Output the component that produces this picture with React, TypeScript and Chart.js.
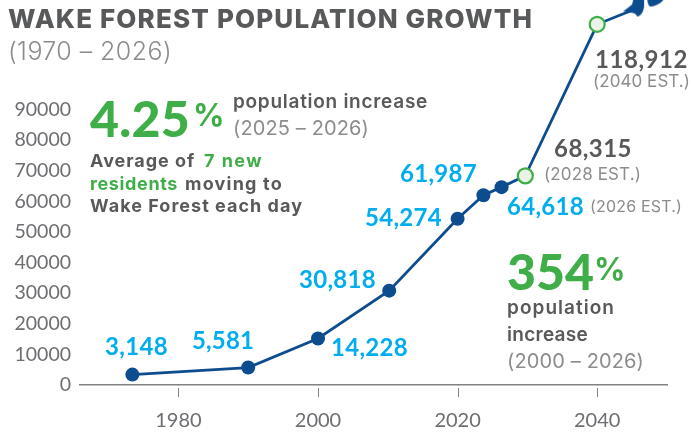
import React, { useEffect, useRef } from "react";
import { Chart, registerables } from "chart.js";

Chart.register(...registerables);

const years = [1973.4, 1990, 2000, 2010.2, 2020, 2023.7, 2026.3, 2029.7, 2040, 2046];
const populations = [3400, 5700, 15200, 30818, 54274, 61987, 64618, 68315, 117800, 123300];
const yTicks = [0, 10000, 20000, 30000, 40000, 50000, 60000, 70000, 80000, 90000];
const xTicks = [1980, 2000, 2020, 2040];
const titleText = "WAKE FOREST POPULATION GROWTH";
const subtitleText = "(1970 – 2026)";
const historicLabels = ["3,148", "5,581", "14,228", "30,818", "54,274", "61,987", "64,618"];
const estimateLabels = ["68,315", "118,912"];
const estimateNotes = ["(2026 EST.)", "(2028 EST.)", "(2040 EST.)"];

const BLUE = "#0d4c8e";
const GREEN = "#3fae49";
const CYAN = "#00aeef";
const DARK = "#58595b";
const GREY = "#8a8c8e";
const FF = "Inter, Lato, sans-serif";
const NUM = "Lato, sans-serif";

type T = [string, number, number, number, string, string, number, string?];
const texts: T[] = [
  [titleText, 8, 28, 525, "800", DARK, 26],
  [subtitleText, 8, 60, 164, "300", GREY, 25],
  [historicLabels[0], 105, 355, 63, "700", CYAN, 24, NUM],
  [historicLabels[1], 192, 349, 62, "700", CYAN, 24, NUM],
  [historicLabels[2], 331, 356, 77, "700", CYAN, 24, NUM],
  [historicLabels[3], 299, 288, 77, "700", CYAN, 24, NUM],
  [historicLabels[4], 365, 226, 77, "700", CYAN, 24, NUM],
  [historicLabels[5], 400, 182, 77, "700", CYAN, 24, NUM],
  [historicLabels[6], 507, 215, 77, "700", CYAN, 24, NUM],
  [estimateNotes[0], 590, 212, 92, "400", GREY, 16],
  [estimateLabels[0], 554, 157, 78, "700", DARK, 24, NUM],
  [estimateNotes[1], 544, 180, 97, "400", GREY, 17],
  [estimateLabels[1], 595, 68, 93, "700", DARK, 24, NUM],
  [estimateNotes[2], 593, 87, 97, "400", GREY, 17],
  ["4.25", 90, 137, 100, "900", GREEN, 50, NUM],
  ["%", 193, 126, 27, "700", GREEN, 31],
  ["population increase", 233, 108, 195, "600", DARK, 19],
  ["(2025 – 2026)", 233, 135, 136, "400", GREY, 20],
  ["Average of", 90, 167, 105, "700", DARK, 18],
  ["7 new", 204, 167, 59, "700", GREEN, 18],
  ["residents", 90, 190, 88, "700", GREEN, 18],
  ["moving to", 185, 190, 98, "700", DARK, 18],
  ["Wake Forest each day", 90, 212, 213, "700", DARK, 18],
  ["354", 507, 290, 87, "900", GREEN, 50, NUM],
  ["%", 594, 280, 28, "700", GREEN, 31],
  ["population", 507, 314, 108, "600", DARK, 19],
  ["increase", 507, 341, 81, "600", DARK, 19],
  ["(2000 – 2026)", 507, 368, 137, "400", GREY, 20],
];

function makeArrow(): HTMLCanvasElement {
  const c = document.createElement("canvas");
  c.width = 80;
  c.height = 40;
  const g = c.getContext("2d")!;
  g.fillStyle = BLUE;
  g.translate(40, 20);
  g.beginPath();
  g.moveTo(-16, 4);
  g.lineTo(-7, -3);
  g.lineTo(-5, -12);
  g.lineTo(8, -12);
  g.bezierCurveTo(8, -6, 9, -2, 11, -1);
  g.bezierCurveTo(15, -1, 20, -3, 24, -7);
  g.lineTo(25, -12);
  g.lineTo(5, -12);
  g.lineTo(5, -2);
  g.bezierCurveTo(5, 3, 2, 9, -2, 9);
  g.bezierCurveTo(-3, 6, -6, 5, -9, 5);
  g.closePath();
  g.fill();
  return c;
}

const annotationsPlugin = {
  id: "annotations",
  afterDatasetsDraw(chart: any) {
    const { ctx, scales } = chart;
    ctx.save();
    ctx.strokeStyle = "#808285";
    ctx.lineWidth = 1;
    const base = scales.x.top;
    xTicks.forEach((v) => {
      const x = Math.round(scales.x.getPixelForValue(v)) + 0.5;
      ctx.beginPath();
      ctx.moveTo(x, base + 3);
      ctx.lineTo(x, base + 12);
      ctx.stroke();
    });
    ctx.textBaseline = "alphabetic";
    ctx.textAlign = "left";
    texts.forEach(([text, x, y, w, weight, color, size, family]) => {
      ctx.font = `${weight} ${size}px ${family ?? FF}`;
      ctx.letterSpacing = "0px";
      const natural = ctx.measureText(text).width;
      ctx.letterSpacing = `${(w - natural) / text.length}px`;
      ctx.fillStyle = color;
      ctx.fillText(text, x, y);
    });
    ctx.letterSpacing = "0px";
    ctx.restore();
  },
};

export default function App() {
  const ref = useRef<HTMLCanvasElement>(null);
  useEffect(() => {
    const arrow = makeArrow();
    const n = years.length;
    const isEstimate = (i: number) => i === 7 || i === 8;
    const chart = new Chart(ref.current!, {
      type: "line",
      data: {
        datasets: [
          {
            data: years.map((x, i) => ({ x, y: populations[i] })),
            borderColor: BLUE,
            borderWidth: 2.8,
            tension: 0,
            clip: false,
            pointRadius: years.map((_, i) => (i === n - 1 ? 20 : isEstimate(i) ? 7.5 : 7)),
            pointBorderWidth: years.map((_, i) => (isEstimate(i) ? 2.2 : 0)),
            pointBackgroundColor: years.map((_, i) => (isEstimate(i) ? "#e9f3e8" : BLUE)),
            pointBorderColor: years.map((_, i) => (isEstimate(i) ? GREEN : BLUE)),
            pointStyle: years.map((_, i) => (i === n - 1 ? arrow : "circle")),
          } as any,
        ],
      },
      options: {
        responsive: false,
        animation: false,
        layout: { padding: { left: 0, right: 24, top: 0, bottom: 0 } },
        plugins: { legend: { display: false }, tooltip: { enabled: false }, title: { display: false } },
        scales: {
          x: {
            type: "linear",
            min: 1965.9,
            max: 2050,
            afterBuildTicks: (s: any) => {
              s.ticks = xTicks.map((value) => ({ value }));
            },
            afterFit: (s: any) => {
              s.height = 47;
            },
            grid: { display: false },
            border: { display: true, color: "#808285", width: 1.5 },
            ticks: {
              maxRotation: 0,
              padding: 16,
              color: "#6d6e71",
              font: { family: NUM, size: 20 },
              callback: (v: any) => String(v),
            },
          },
          y: {
            type: "linear",
            min: 0,
            max: 119200,
            afterBuildTicks: (s: any) => {
              s.ticks = yTicks.map((value) => ({ value }));
            },
            afterFit: (s: any) => {
              s.width = 80;
            },
            grid: { display: false },
            border: { display: false },
            ticks: {
              padding: 1,
              color: "#6d6e71",
              font: { family: NUM, size: 19.5 },
              callback: (v: any) => String(v),
            },
          },
        },
      },
      plugins: [annotationsPlugin],
    });
    return () => chart.destroy();
  }, []);
  return (
    <canvas
      ref={ref}
      width={691}
      height={432}
      style={{ position: "absolute", left: 0, top: 0, width: 691, height: 432, background: "#fff" }}
    />
  );
}
